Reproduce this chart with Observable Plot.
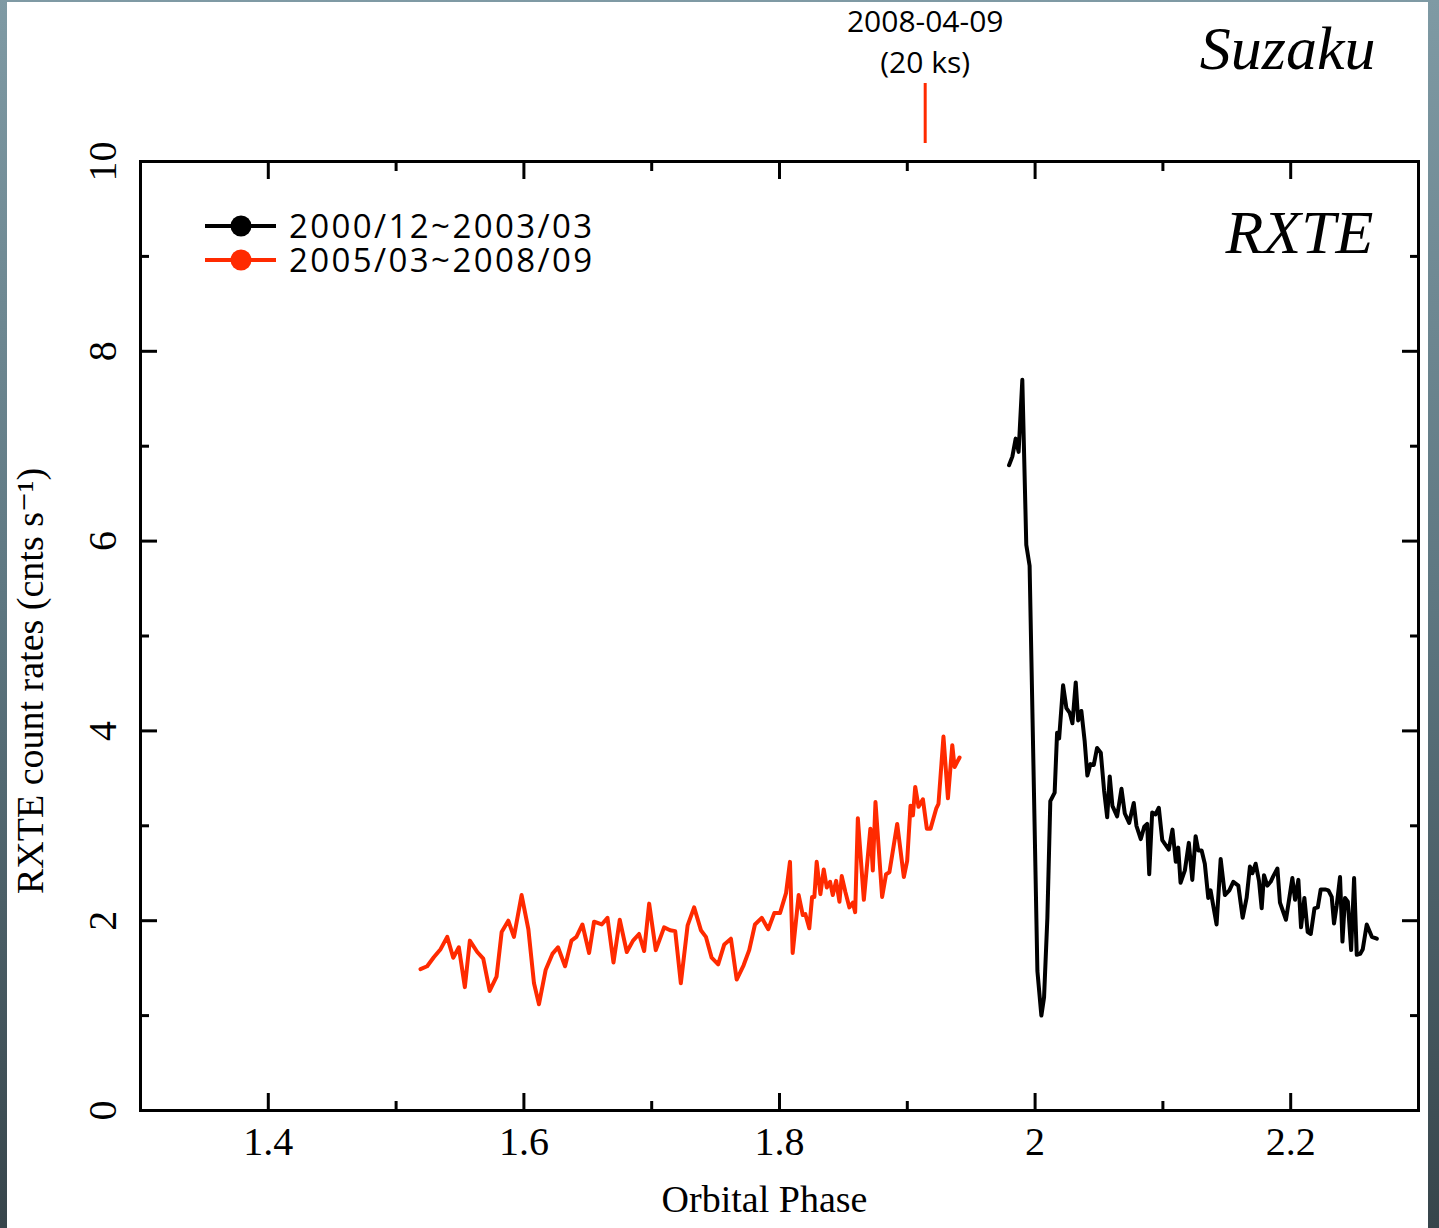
<!DOCTYPE html>
<html>
<head>
<meta charset="utf-8">
<script src="https://cdn.jsdelivr.net/npm/d3@7"></script>
<script src="https://cdn.jsdelivr.net/npm/@observablehq/plot@0.6"></script>
<style>
  html, body { margin: 0; padding: 0; }
  body { width: 1439px; height: 1228px; background: linear-gradient(to bottom, #7f9aa4 0%, #5d7680 50%, #37454b 100%); position: relative; overflow: hidden; }
  #wrap { position: absolute; left: 7px; top: 2px; width: 1421px; height: 1226px; background: #ffffff; }
  #wrap svg { display: block; }
</style>
</head>
<body>
<div id="wrap"></div>
<script>
// ---- Data ----
const redPhase = [1.5191,1.5243,1.5295,1.5348,1.5400,1.5447,1.5491,1.5538,1.5577,1.5635,1.5682,1.5732,1.5786,1.5826,1.5878,1.5922,1.5982,1.6035,1.6079,1.6118,1.6170,1.6223,1.6267,1.6322,1.6372,1.6411,1.6458,1.6510,1.6549,1.6609,1.6654,1.6701,1.6750,1.6805,1.6854,1.6901,1.6941,1.6980,1.7032,1.7097,1.7144,1.7184,1.7228,1.7281,1.7332,1.7385,1.7424,1.7469,1.7520,1.7568,1.7620,1.7665,1.7719,1.7763,1.7808,1.7861,1.7912,1.7959,1.8004,1.8051,1.8082,1.8103,1.8150,1.8182,1.8202,1.8233,1.8255,1.8273,1.8291,1.8320,1.8346,1.8370,1.8396,1.8417,1.8443,1.8469,1.8487,1.8516,1.8547,1.8574,1.8592,1.8613,1.8660,1.8711,1.8730,1.8751,1.8803,1.8834,1.8860,1.8921,1.8973,1.8999,1.9025,1.9044,1.9062,1.9088,1.9122,1.9153,1.9182,1.9226,1.9244,1.9283,1.9318,1.9352,1.9370,1.9409];
const redRate  = [1.49,1.52,1.615,1.70,1.83,1.61,1.72,1.30,1.79,1.67,1.60,1.26,1.41,1.88,2.00,1.83,2.27,1.91,1.34,1.12,1.48,1.65,1.72,1.52,1.79,1.83,1.96,1.66,1.99,1.96,2.03,1.56,2.01,1.67,1.79,1.86,1.68,2.18,1.69,1.93,1.90,1.89,1.34,1.95,2.14,1.90,1.83,1.61,1.54,1.75,1.81,1.38,1.53,1.69,1.96,2.03,1.91,2.08,2.08,2.29,2.62,1.66,2.27,2.06,2.07,1.92,2.25,2.25,2.62,2.28,2.54,2.35,2.41,2.27,2.42,2.20,2.47,2.30,2.14,2.19,2.09,3.08,2.22,2.97,2.53,3.25,2.25,2.49,2.51,3.02,2.46,2.63,3.21,3.11,3.41,3.20,3.28,2.97,2.97,3.18,3.23,3.94,3.29,3.85,3.62,3.72];

const blackPhase = [1.9796,1.9822,1.9848,1.9871,1.9900,1.9931,1.9957,2.0018,2.0049,2.0070,2.0096,2.0119,2.0153,2.0172,2.0188,2.0219,2.0245,2.0271,2.0292,2.0318,2.0337,2.0362,2.0388,2.0409,2.0433,2.0459,2.0485,2.0514,2.0540,2.0564,2.0584,2.0605,2.0642,2.0676,2.0702,2.0736,2.0772,2.0793,2.0827,2.0854,2.0877,2.0893,2.0916,2.0942,2.0968,2.0995,2.1046,2.1075,2.1101,2.1120,2.1138,2.1172,2.1203,2.1230,2.1256,2.1277,2.1303,2.1328,2.1355,2.1373,2.1420,2.1452,2.1485,2.1520,2.1551,2.1590,2.1624,2.1655,2.1681,2.1700,2.1726,2.1752,2.1773,2.1791,2.1817,2.1843,2.1864,2.1896,2.1916,2.1937,2.1963,2.1987,2.2013,2.2034,2.2060,2.2081,2.2107,2.2133,2.2157,2.2186,2.2212,2.2235,2.2269,2.2295,2.2321,2.2339,2.2360,2.2386,2.2405,2.2425,2.2447,2.2473,2.2496,2.2517,2.2543,2.2564,2.2595,2.2635,2.2674];
const blackRate  = [6.80,6.89,7.08,6.94,7.70,5.96,5.74,1.47,1.00,1.19,2.03,3.26,3.35,3.98,3.92,4.48,4.24,4.19,4.08,4.51,4.11,4.21,3.89,3.53,3.65,3.64,3.82,3.77,3.37,3.09,3.52,3.21,3.10,3.39,3.13,3.03,3.24,3.00,2.86,2.99,3.02,2.49,3.14,3.12,3.19,2.85,2.75,2.96,2.62,2.77,2.40,2.53,2.82,2.43,2.89,2.74,2.74,2.60,2.24,2.32,1.96,2.65,2.27,2.32,2.41,2.37,2.03,2.24,2.57,2.50,2.60,2.42,2.13,2.48,2.37,2.41,2.47,2.55,2.19,2.11,2.01,2.22,2.45,2.22,2.43,1.93,2.24,1.88,1.86,2.13,2.14,2.33,2.33,2.32,2.25,1.97,2.16,2.46,1.78,2.24,2.20,1.69,2.45,1.64,1.65,1.70,1.96,1.83,1.81];

const seriesLabels = ["2000/12~2003/03", "2005/03~2008/09"];
const seriesColors = ["#000000", "#ff2a00"];

const xMajorTicks = [1.4, 1.6, 1.8, 2, 2.2];
const xMinorTicks = [1.5, 1.7, 1.9, 2.1];
const yMajorTicks = [0, 2, 4, 6, 8, 10];
const yMinorTicks = [1, 3, 5, 7, 9];

const suzakuObs = [{phase: 1.914, date: "2008-04-09", exposure: "(20 ks)"}];
const xLabel = "Orbital Phase";
const yLabel = "RXTE count rates (cnts s\u207B\u00B9)";

// ---- Build tables ----
const red = redPhase.map((p, i) => ({phase: p, rate: redRate[i]}));
const black = blackPhase.map((p, i) => ({phase: p, rate: blackRate[i]}));
const legendItems = [
  {label: seriesLabels[0], color: seriesColors[0]},
  {label: seriesLabels[1], color: seriesColors[1]}
];

const serif = "'Liberation Serif', 'DejaVu Serif', serif";
const sans = "'Open Sans', 'Liberation Sans', sans-serif";

function inwardTicks(ticks, size, sw) {
  return [
    Plot.axisX({anchor: "bottom", ticks, tickSize: size, dy: -size, fill: "none", tickFormat: () => "", label: null, strokeWidth: sw}),
    Plot.axisX({anchor: "top", ticks, tickSize: size, dy: size, fill: "none", tickFormat: () => "", label: null, strokeWidth: sw})
  ];
}
function inwardTicksY(ticks, size, sw) {
  return [
    Plot.axisY({anchor: "left", ticks, tickSize: size, dx: size, fill: "none", tickFormat: () => "", label: null, strokeWidth: sw}),
    Plot.axisY({anchor: "right", ticks, tickSize: size, dx: -size, fill: "none", tickFormat: () => "", label: null, strokeWidth: sw})
  ];
}

function legendMark(index, scales, values, dims) {
  const g = d3.create("svg:g");
  const x0 = dims.marginLeft + 65, y0 = dims.marginTop + 65;
  legendItems.forEach((item, i) => {
    const y = y0 + i * 34;
    g.append("line").attr("x1", x0).attr("x2", x0 + 71).attr("y1", y).attr("y2", y)
      .attr("stroke", item.color).attr("stroke-width", 4);
    g.append("circle").attr("cx", x0 + 36).attr("cy", y).attr("r", 10.5).attr("fill", item.color);
    g.append("text").attr("x", x0 + 84).attr("y", y).attr("dy", "0.36em")
      .attr("text-anchor", "start")
      .attr("font-family", sans).attr("font-size", 33).attr("letter-spacing", "2.4px")
      .attr("fill", "#000").text(item.label);
  });
  return g.node();
}

const chart = Plot.plot({
  width: 1421,
  height: 1226,
  marginLeft: 133,
  marginRight: 10,
  marginTop: 159,
  marginBottom: 118,
  style: {background: "transparent", overflow: "visible"},
  x: {domain: [1.3, 2.3], axis: null},
  y: {domain: [0, 10], axis: null},
  marks: [
    Plot.line(red, {x: "phase", y: "rate", stroke: seriesColors[1], strokeWidth: 4, strokeLinejoin: "round", strokeLinecap: "round"}),
    Plot.line(black, {x: "phase", y: "rate", stroke: seriesColors[0], strokeWidth: 4, strokeLinejoin: "round", strokeLinecap: "round"}),
    ...inwardTicks(xMajorTicks, 17, 3),
    ...inwardTicks(xMinorTicks, 9, 3),
    ...inwardTicksY(yMajorTicks, 17, 3),
    ...inwardTicksY(yMinorTicks, 9, 3),
    Plot.frame({stroke: "#000", strokeWidth: 3}),
    // x tick labels
    Plot.text(xMajorTicks, {x: d => d, text: d => String(d), frameAnchor: "bottom", dy: 32, lineAnchor: "middle", fontSize: 40, fontFamily: serif, fill: "#000"}),
    // y tick labels (rotated)
    Plot.text(yMajorTicks, {y: d => d, text: d => String(d), frameAnchor: "left", dx: -37, rotate: -90, textAnchor: "middle", lineAnchor: "middle", fontSize: 40, fontFamily: serif, fill: "#000"}),
    // axis titles
    Plot.text([xLabel], {text: d => d, frameAnchor: "bottom", dx: -15, dy: 89, lineAnchor: "middle", fontSize: 38, fontFamily: serif, fill: "#000"}),
    Plot.text([yLabel], {text: d => d, frameAnchor: "left", dx: -110, dy: 45, rotate: -90, textAnchor: "middle", lineAnchor: "middle", fontSize: 38, fontFamily: serif, fill: "#000"}),
    // Suzaku observation marker
    Plot.ruleX(suzakuObs, {x: "phase", stroke: seriesColors[1], strokeWidth: 3, insetTop: -78, insetBottom: 967}),
    Plot.text(suzakuObs, {x: "phase", text: "date", frameAnchor: "top", dy: -139, lineAnchor: "middle", fontSize: 30, fontFamily: sans, fill: "#000"}),
    Plot.text(suzakuObs, {x: "phase", text: "exposure", frameAnchor: "top", dy: -98, lineAnchor: "middle", fontSize: 30, fontFamily: sans, fill: "#000"}),
    // Mission names
    Plot.text(["Suzaku"], {text: d => d, frameAnchor: "top-right", dx: -43, dy: -93, textAnchor: "end", lineAnchor: "bottom", fontSize: 62, fontStyle: "italic", fontFamily: serif, fill: "#000"}),
    Plot.text(["RXTE"], {text: d => d, frameAnchor: "top-right", dx: -45, dy: 91, textAnchor: "end", lineAnchor: "bottom", fontSize: 62, fontStyle: "italic", fontFamily: serif, fill: "#000"}),
    // legend
    legendMark
  ]
});
document.getElementById("wrap").appendChild(chart);
</script>
</body>
</html>
